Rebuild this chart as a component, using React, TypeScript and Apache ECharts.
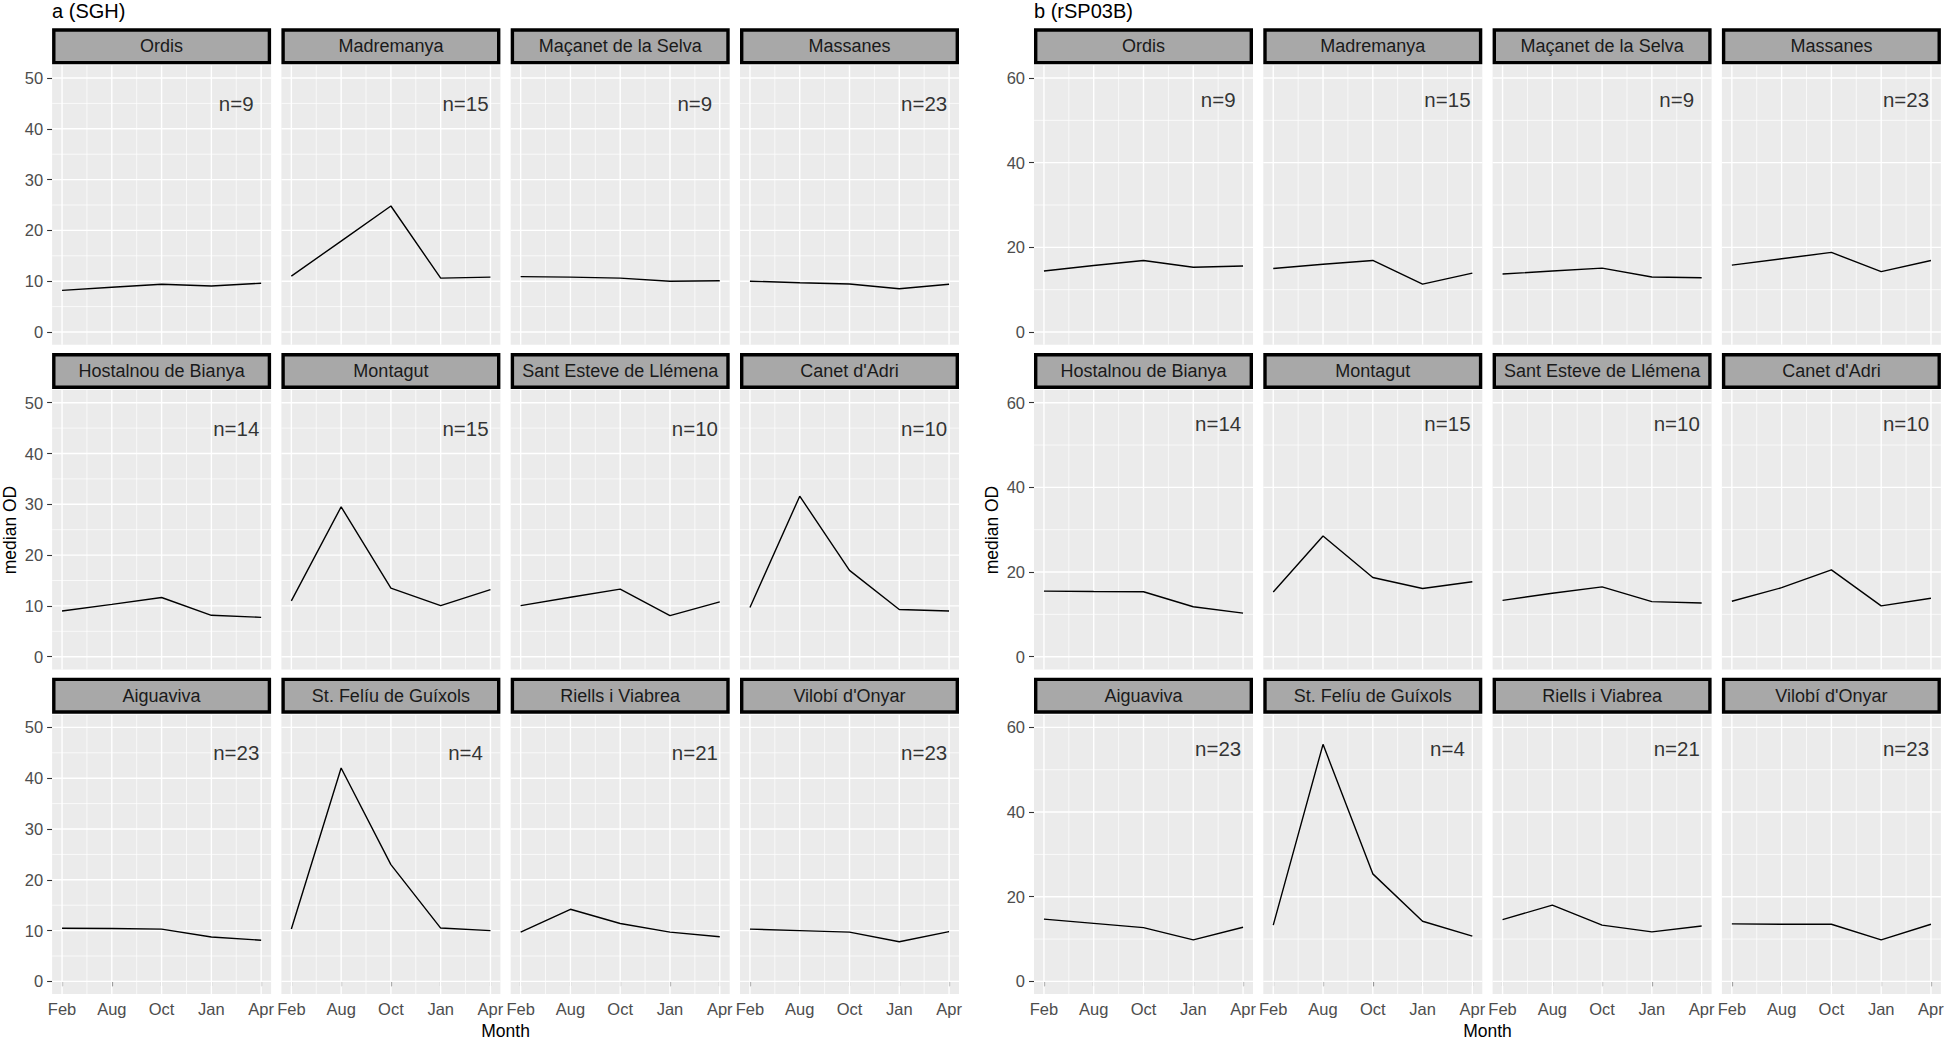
import React, { useEffect, useRef } from 'react';
import * as echarts from 'echarts';

const months = ['Feb', 'Aug', 'Oct', 'Jan', 'Apr'];
const monthPositions = [1, 2, 3, 4, 5];
const monthMinor = [1.5, 2.5, 3.5, 4.5];

const sites = [
  'Ordis', 'Madremanya', 'Maçanet de la Selva', 'Massanes',
  'Hostalnou de Bianya', 'Montagut', 'Sant Esteve de Llémena', "Canet d'Adri",
  'Aiguaviva', 'St. Felíu de Guíxols', 'Riells i Viabrea', "Vilobí d'Onyar",
];
const sampleSizes = [9, 15, 9, 23, 14, 15, 10, 10, 23, 4, 21, 23];

// median OD, SGH (panel a), per site, months Feb, Aug, Oct, Jan, Apr
const sghValues = [
  [8.2, 8.8, 9.4, 9.05, 9.6],
  [11.0, 17.9, 24.8, 10.6, 10.8],
  [10.9, 10.8, 10.6, 10.0, 10.1],
  [10.0, 9.7, 9.45, 8.5, 9.4],
  [9.0, 10.3, 11.65, 8.15, 7.75],
  [11.0, 29.5, 13.5, 10.05, 13.2],
  [10.05, 11.7, 13.3, 8.1, 10.8],
  [9.7, 31.6, 17.0, 9.3, 9.0],
  [10.45, 10.4, 10.3, 8.75, 8.1],
  [10.3, 42.0, 23.0, 10.5, 10.0],
  [9.7, 14.2, 11.4, 9.7, 8.8],
  [10.3, 10.0, 9.7, 7.8, 9.8],
];

// median OD, rSP03B (panel b)
const rsp03bValues = [
  [14.4, 15.7, 16.9, 15.3, 15.6],
  [15.0, 16.0, 16.9, 11.3, 13.9],
  [13.7, 14.4, 15.1, 13.0, 12.8],
  [15.8, 17.3, 18.8, 14.25, 16.9],
  [15.5, 15.4, 15.35, 11.8, 10.3],
  [15.3, 28.5, 18.7, 16.1, 17.7],
  [13.3, 15.0, 16.5, 13.0, 12.7],
  [13.1, 16.3, 20.5, 12.0, 13.8],
  [14.7, 13.7, 12.7, 9.8, 12.8],
  [13.3, 56.0, 25.4, 14.2, 10.7],
  [14.6, 18.0, 13.3, 11.7, 13.1],
  [13.6, 13.5, 13.5, 9.8, 13.5],
];

const sghTicks = [0, 10, 20, 30, 40, 50];
const sghMinor = [5, 15, 25, 35, 45];
const rspTicks = [0, 20, 40, 60];
const rspMinor = [10, 30, 50];

const FONT = "'Liberation Sans', Arial, Helvetica, sans-serif";
const COL_STEP = 229.3;
const ROW_STEP = 324.7;
const PANEL_W = 219;
const PANEL_H = 279.4;
const PANEL_TOP = 65.3;
const STRIP_TOP = 28.3;
const STRIP_H = 36;

const halves = [
  { title: 'a (SGH)', left: 52.1, values: sghValues, ticks: sghTicks, minor: sghMinor, yMin: -2.5, yMax: 52.5, nY: 45 },
  { title: 'b (rSP03B)', left: 1034, values: rsp03bValues, ticks: rspTicks, minor: rspMinor, yMin: -3, yMax: 63, nY: 55 },
];

function buildOption() {
  const grid: any[] = [];
  const xAxis: any[] = [];
  const yAxis: any[] = [];
  const series: any[] = [];
  const graphic: any[] = [];

  halves.forEach((h) => {
    sites.forEach((site, si) => {
      const r = Math.floor(si / 4);
      const c = si % 4;
      const gi = grid.length;
      const left = h.left + c * COL_STEP;
      const top = PANEL_TOP + r * ROW_STEP;
      const isBottom = r === 2;
      const isFirst = c === 0;
      grid.push({
        left, top, width: PANEL_W, height: PANEL_H,
        show: true, backgroundColor: '#EBEBEB', borderWidth: 0,
        containLabel: false, outerBoundsMode: 'none',
      });
      xAxis.push({
        type: 'value', gridIndex: gi, min: 0.8, max: 5.2,
        axisLine: { show: false }, splitLine: { show: false },
        axisTick: { show: isBottom, customValues: monthPositions, length: 5, lineStyle: { color: '#333333', width: 1.1 } },
        axisLabel: {
          show: isBottom, customValues: monthPositions, margin: 6,
          formatter: (v: number) => (Math.abs(v - Math.round(v)) < 1e-6 ? months[Math.round(v) - 1] ?? '' : ''),
          color: '#4D4D4D', fontSize: 16.5, fontFamily: FONT,
        },
      });
      yAxis.push({
        type: 'value', gridIndex: gi, min: h.yMin, max: h.yMax,
        axisLine: { show: false }, splitLine: { show: false },
        axisTick: { show: isFirst, customValues: h.ticks, length: 5, lineStyle: { color: '#333333', width: 1.1 } },
        axisLabel: {
          show: isFirst, customValues: h.ticks, margin: 9,
          color: '#4D4D4D', fontSize: 16.5, fontFamily: FONT,
        },
      });
      // panel gridlines: [direction, value, width]
      const gridData: number[][] = [];
      monthMinor.forEach((v) => gridData.push([0, v, 0.7]));
      h.minor.forEach((v) => gridData.push([1, v, 0.7]));
      monthPositions.forEach((v) => gridData.push([0, v, 1.4]));
      h.ticks.forEach((v) => gridData.push([1, v, 1.4]));
      const yMin = h.yMin, yMax = h.yMax;
      series.push({
        type: 'custom', xAxisIndex: gi, yAxisIndex: gi, silent: true, z: 1,
        data: gridData,
        encode: { x: 1, y: 1 },
        renderItem: (params: any, api: any) => {
          const dir = api.value(0);
          const v = api.value(1);
          const w = api.value(2);
          let p1, p2;
          if (dir === 0) {
            p1 = api.coord([v, yMin]);
            p2 = api.coord([v, yMax]);
          } else {
            p1 = api.coord([0.8, v]);
            p2 = api.coord([5.2, v]);
          }
          return {
            type: 'line',
            shape: { x1: p1[0], y1: p1[1], x2: p2[0], y2: p2[1] },
            style: { stroke: '#FFFFFF', lineWidth: w },
          };
        },
      });
      series.push({
        type: 'line', xAxisIndex: gi, yAxisIndex: gi, z: 3, silent: true,
        data: monthPositions.map((x, i) => [x, h.values[si][i]]),
        showSymbol: false, symbol: 'none',
        lineStyle: { color: '#000000', width: 1.4 },
      });
      series.push({
        type: 'scatter', xAxisIndex: gi, yAxisIndex: gi, z: 4, silent: true,
        data: [[4.5, h.nY]], symbolSize: 0.1,
        itemStyle: { color: 'rgba(0,0,0,0)' },
        label: {
          show: true, position: 'inside', formatter: 'n=' + sampleSizes[si],
          fontSize: 20.5, color: '#000000', fontFamily: FONT,
        },
      });
      const sTop = STRIP_TOP + r * ROW_STEP;
      graphic.push({
        type: 'rect', silent: true,
        shape: { x: left + 1.7, y: sTop + 1.7, width: PANEL_W - 3.4, height: STRIP_H - 3.4 },
        style: { fill: '#A8A8A8', stroke: '#000000', lineWidth: 3.4 },
      });
      graphic.push({
        type: 'text', silent: true,
        x: left + PANEL_W / 2, y: sTop + STRIP_H / 2,
        style: {
          text: site, fontSize: 18, fontFamily: FONT, fill: '#1A1A1A',
          align: 'center', verticalAlign: 'middle', textAlign: 'center', textVerticalAlign: 'middle',
        },
      });
    });
    // half title
    graphic.push({
      type: 'text', silent: true, x: h.left, y: 10.5,
      style: {
        text: h.title, fontSize: 20, fontFamily: FONT, fill: '#000000',
        align: 'left', verticalAlign: 'middle', textAlign: 'left', textVerticalAlign: 'middle',
      },
    });
    // x title
    const totalW = 3 * COL_STEP + PANEL_W;
    graphic.push({
      type: 'text', silent: true, x: h.left + totalW / 2, y: 1031,
      style: {
        text: 'Month', fontSize: 17.5, fontFamily: FONT, fill: '#000000',
        align: 'center', verticalAlign: 'middle', textAlign: 'center', textVerticalAlign: 'middle',
      },
    });
    // y title
    graphic.push({
      type: 'text', silent: true, x: h.left - 42, y: 530, rotation: Math.PI / 2,
      style: {
        text: 'median OD', fontSize: 17.5, fontFamily: FONT, fill: '#000000',
        align: 'center', verticalAlign: 'middle', textAlign: 'center', textVerticalAlign: 'middle',
      },
    });
  });

  return {
    animation: false,
    backgroundColor: '#FFFFFF',
    textStyle: { fontFamily: FONT },
    grid, xAxis, yAxis, series, graphic,
  };
}

export default function App() {
  const ref = useRef<HTMLDivElement>(null);
  useEffect(() => {
    const chart = echarts.init(ref.current as HTMLDivElement, null, { renderer: 'svg' });
    chart.setOption(buildOption() as any);
    return () => chart.dispose();
  }, []);
  return (
    <div
      ref={ref}
      style={{ position: 'fixed', left: 0, top: 0, width: 1946, height: 1040, background: '#FFFFFF' }}
    />
  );
}
